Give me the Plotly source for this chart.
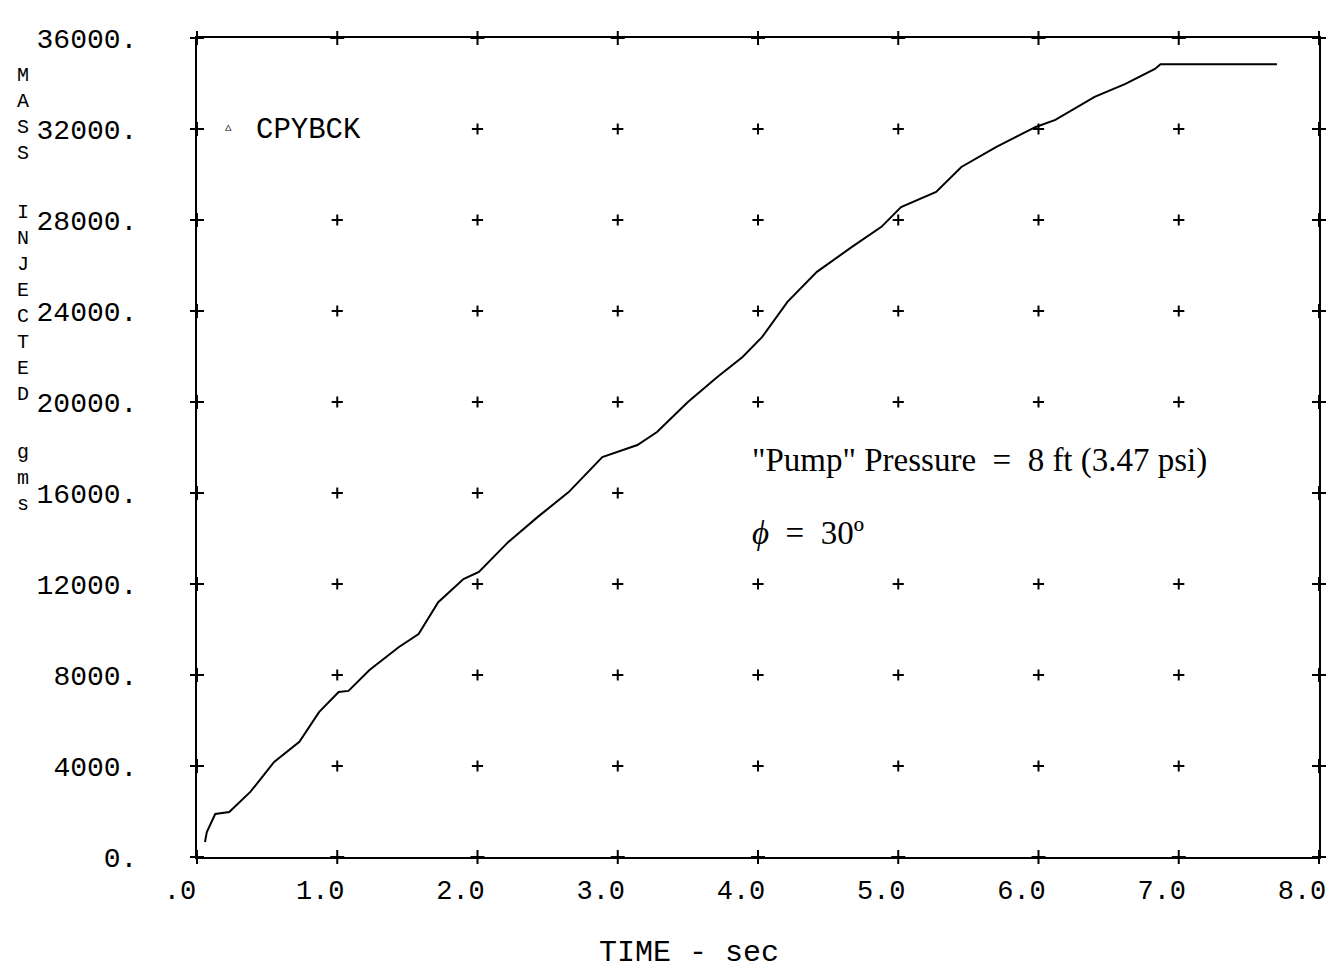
import plotly.graph_objects as go

# ---- data ----
time_s = [0.057, 0.07, 0.13, 0.23, 0.38, 0.55, 0.73, 0.87, 1.01, 1.08, 1.23, 1.44, 1.58,
          1.72, 1.90, 2.01, 2.22, 2.43, 2.65, 2.82, 2.89, 3.14, 3.28, 3.50, 3.71, 3.89,
          4.03, 4.21, 4.42, 4.67, 4.88, 5.02, 5.27, 5.45, 5.70, 5.98, 6.12, 6.40, 6.62,
          6.83, 6.87, 7.70]
mass_g = [660, 1100, 1890, 1980, 2860, 4180, 5060, 6370, 7250, 7300, 8220, 9230, 9800,
          11200, 12220, 12530, 13850, 14950, 16040, 17140, 17580, 18110, 18680, 20000,
          21100, 21980, 22860, 24400, 25720, 26820, 27700, 28570, 29230, 30330, 31210,
          32090, 32400, 33410, 33980, 34640, 34850, 34850]

x_ticks = [0, 1, 2, 3, 4, 5, 6, 7, 8]
x_tick_labels = [".0", "1.0", "2.0", "3.0", "4.0", "5.0", "6.0", "7.0", "8.0"]
y_ticks = [0, 4000, 8000, 12000, 16000, 20000, 24000, 28000, 32000, 36000]
y_tick_labels = ["0.", "4000.", "8000.", "12000.", "16000.", "20000.", "24000.",
                 "28000.", "32000.", "36000."]

# grid "+" marks inside the plot (rows with the columns that are shown)
grid_rows = {
    4000: [1, 2, 3, 4, 5, 6, 7],
    8000: [1, 2, 3, 4, 5, 6, 7],
    12000: [1, 2, 3, 4, 5, 6, 7],
    16000: [1, 2, 3],
    20000: [1, 2, 3, 4, 5, 6, 7],
    24000: [1, 2, 3, 4, 5, 6, 7],
    28000: [1, 2, 3, 4, 5, 6, 7],
    32000: [2, 3, 4, 5, 6, 7],
}

series_name = "CPYBCK"

gx, gy = [], []
for yv, cols in grid_rows.items():
    for xv in cols:
        gx.append(xv)
        gy.append(yv)

# axis tick crosses on all four sides
tx, ty = [], []
for xv in x_ticks:
    tx += [xv, xv]
    ty += [y_ticks[0], y_ticks[-1]]
for yv in y_ticks:
    tx += [x_ticks[0], x_ticks[-1]]
    ty += [yv, yv]

MONO = "Liberation Mono"
L, R, T, B = 197, 10, 38, 120
W, H = 1336, 977
PW, PH = W - L - R, H - T - B


def px(x):
    return (x - L) / PW


def py(y):
    return (H - B - y) / PH


fig = go.Figure()
fig.add_trace(go.Scatter(x=gx, y=gy, mode="markers", hoverinfo="skip",
                         marker=dict(symbol="cross-thin", size=8,
                                     line=dict(width=2, color="black")),
                         showlegend=False))
fig.add_trace(go.Scatter(x=tx, y=ty, mode="markers", hoverinfo="skip", cliponaxis=False,
                         marker=dict(symbol="cross-thin", size=10,
                                     line=dict(width=2, color="black")),
                         showlegend=False))
fig.add_trace(go.Scatter(x=time_s, y=mass_g, mode="lines", name=series_name,
                         line=dict(color="black", width=2), showlegend=False))

fig.update_layout(
    width=W, height=H,
    margin=dict(l=L, r=R, t=T, b=B),
    paper_bgcolor="white", plot_bgcolor="white",
    font=dict(family=MONO, size=28, color="black"),
    xaxis=dict(range=[0, 8], tickmode="array", tickvals=x_ticks, ticktext=x_tick_labels,
               showgrid=False, zeroline=False, showline=True, linecolor="black",
               linewidth=2, mirror=True, ticks="", ticklabelstandoff=8,
               ticklabelshift=-17,
               tickfont=dict(family=MONO, size=27, color="black")),
    yaxis=dict(range=[0, 36000], tickmode="array", tickvals=y_ticks, ticktext=y_tick_labels,
               showgrid=False, zeroline=False, showline=True, linecolor="black",
               linewidth=2, mirror=True, ticks="", ticklabelstandoff=52,
               tickfont=dict(family=MONO, size=28, color="black")),
)

# x-axis title
fig.add_annotation(text="TIME - sec", xref="paper", yref="paper",
                   x=px(692), y=py(953), xanchor="center", yanchor="middle",
                   showarrow=False, font=dict(family=MONO, size=30, color="black"))

# stacked y-axis title, one word per block (pixel y of block centre)
title_words = [("MASS", 114), ("INJECTED", 304), ("gms", 478)]
for word, yy in title_words:
    fig.add_annotation(text="<br>".join(word), xref="paper", yref="paper",
                       x=px(22), y=py(yy), xanchor="center", yanchor="middle",
                       align="center", showarrow=False,
                       font=dict(family=MONO, size=20, color="black"))

# legend-like label
fig.add_annotation(text="\u25b5", xref="paper", yref="paper",
                   x=px(229), y=py(127), xanchor="center", yanchor="middle",
                   showarrow=False, font=dict(family="DejaVu Sans", size=13, color="black"))
fig.add_annotation(text=series_name, xref="paper", yref="paper",
                   x=px(254), y=py(130), xanchor="left", yanchor="middle",
                   showarrow=False, font=dict(family=MONO, size=29, color="black"))

# condition annotations
fig.add_annotation(text="\"Pump\" Pressure  =  8 ft (3.47 psi)", xref="paper", yref="paper",
                   x=px(753), y=py(461), xanchor="left", yanchor="middle",
                   showarrow=False,
                   font=dict(family="Liberation Serif", size=33, color="black"))
fig.add_annotation(text="<i>\u03d5</i>  =  30\u00ba", xref="paper", yref="paper",
                   x=px(753), y=py(533), xanchor="left", yanchor="middle",
                   showarrow=False,
                   font=dict(family="Liberation Serif", size=33, color="black"))

fig.write_html("out.html")
